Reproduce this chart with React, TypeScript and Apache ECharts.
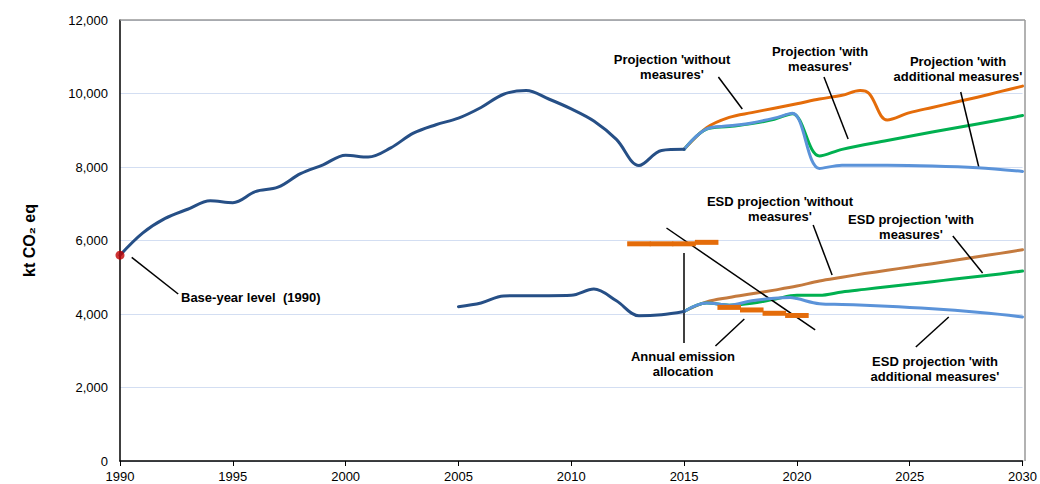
import React, { useEffect, useRef } from "react";
import * as echarts from "echarts";

// ---- Data ----
const historic: [number, number][] = [
  [1990, 5600], [1991, 6200], [1992, 6600], [1993, 6850], [1994, 7080], [1995, 7030],
  [1996, 7330], [1997, 7450], [1998, 7820], [1999, 8060], [2000, 8320], [2001, 8270],
  [2002, 8520], [2003, 8920], [2004, 9150], [2005, 9330], [2006, 9620], [2007, 9980],
  [2008, 10080], [2009, 9850], [2010, 9580], [2011, 9250], [2012, 8750], [2013, 8040],
  [2014, 8450], [2015, 8480],
];

const projWithout: [number, number][] = [
  [2015, 8480], [2016, 9070], [2017, 9350], [2018, 9480], [2019, 9600], [2020, 9720],
  [2021, 9850], [2022, 9950], [2022.8, 10080], [2023.2, 10000], [2024, 9280], [2025, 9480],
  [2026, 9620], [2027, 9760], [2028, 9900], [2029, 10050], [2030, 10200],
];

const projWith: [number, number][] = [
  [2015, 8480], [2016, 9030], [2017, 9100], [2018, 9180], [2019, 9300], [2019.8, 9450],
  [2021, 8300], [2022, 8480], [2024, 8720], [2026, 8950], [2028, 9170], [2030, 9400],
];

const projAdditional: [number, number][] = [
  [2015, 8480], [2016, 9040], [2017, 9120], [2018, 9200], [2019, 9330], [2019.8, 9460],
  [2021, 7960], [2022, 8050], [2024, 8050], [2026, 8030], [2028, 7980], [2030, 7880],
];

const esdHistoric: [number, number][] = [
  [2005, 4200], [2006, 4300], [2007, 4490], [2008, 4500], [2009, 4500], [2010, 4510],
  [2011, 4680], [2012, 4360], [2013, 3950], [2014, 3980], [2015, 4070],
];

const esdWithout: [number, number][] = [
  [2015, 4070], [2016, 4330], [2017, 4450], [2018, 4550], [2019, 4650], [2020, 4760],
  [2021, 4900], [2022, 5000], [2023, 5100], [2024, 5190], [2025, 5280], [2026, 5370],
  [2027, 5460], [2028, 5560], [2029, 5650], [2030, 5750],
];

const esdWith: [number, number][] = [
  [2015, 4070], [2016, 4300], [2017, 4240], [2018, 4290], [2019, 4400], [2020, 4510],
  [2021, 4510], [2022, 4600], [2023, 4670], [2024, 4740], [2025, 4810], [2026, 4880],
  [2027, 4950], [2028, 5020], [2029, 5090], [2030, 5170],
];

const esdAdditional: [number, number][] = [
  [2015, 4070], [2016, 4300], [2017, 4240], [2018, 4360], [2019, 4430], [2019.7, 4450],
  [2020, 4420], [2021, 4280], [2022, 4260], [2023, 4240], [2024, 4210], [2025, 4180],
  [2026, 4140], [2027, 4100], [2028, 4050], [2029, 3990], [2030, 3920],
];

const allocationYears = [2013, 2014, 2015, 2016, 2017, 2018, 2019, 2020];
const allocationValues = [5910, 5910, 5910, 5950, 4180, 4110, 4020, 3960];

const baseYear: [number, number][] = [[1990, 5600]];

// annotation leader lines (data coordinates)
const leaders: [number, number, number, number][] = [
  [1990.52, 5543, 1992.58, 4544],
  [2016.52, 10449, 2017.58, 9578],
  [2021.2, 10449, 2022.27, 8762],
  [2027.26, 10041, 2028.06, 8000],
  [2020.72, 6422, 2021.56, 5061],
  [2026.91, 6122, 2028.23, 5116],
  [2026.73, 3918, 2025.27, 3102],
  [2017.67, 3864, 2016.39, 3129],
  [2015.0, 5660, 2015.0, 3211],
  [2014.22, 6340, 2020.81, 3565],
];

const FONT = "'Liberation Sans', Arial, sans-serif";

export default function App() {
  const ref = useRef<HTMLDivElement>(null);
  useEffect(() => {
    document.body.style.margin = "0";
    if (!ref.current) return;
    const chart = echarts.init(ref.current, undefined, { renderer: "svg" });

    const lineSeries = (name: string, data: [number, number][], color: string, width: number, z: number) => ({
      name,
      type: "line",
      data,
      smooth: 0.35,
      showSymbol: false,
      symbol: "none",
      z,
      lineStyle: { color, width, cap: "round", join: "round" },
    });

    const allocData = allocationYears.map((y, i) => [y, allocationValues[i]]);

    const labelStyle = (text: string, x: number, y: number, align: string = "center") => ({
      type: "text",
      x,
      y,
      style: {
        text,
        fill: "#000",
        font: `bold 13px ${FONT}`,
        textAlign: align,
        textVerticalAlign: "top",
        lineHeight: 15,
      },
      z: 100,
    });

    chart.setOption({
      animation: false,
      grid: { left: 120, right: 15, top: 20, bottom: 23, show: false },
      xAxis: {
        type: "value",
        min: 1990,
        max: 2030,
        interval: 5,
        axisLine: { show: true, lineStyle: { color: "#000", width: 1.5 } },
        axisTick: { show: true, length: 5, lineStyle: { color: "#000" } },
        axisLabel: { color: "#000", fontFamily: FONT, fontSize: 13, margin: 9, formatter: (v: number) => String(v) },
        splitLine: { show: false },
      },
      yAxis: {
        type: "value",
        min: 0,
        max: 12000,
        interval: 2000,
        name: "kt CO\u2082 eq",
        nameLocation: "middle",
        nameGap: 83,
        nameTextStyle: { color: "#000", fontFamily: FONT, fontSize: 16, fontWeight: "bold" },
        axisLine: { show: true, lineStyle: { color: "#000", width: 1.5 } },
        axisTick: { show: false },
        axisLabel: {
          color: "#000",
          fontFamily: FONT,
          fontSize: 13,
          margin: 12,
          formatter: (v: number) => v.toLocaleString("en-US"),
        },
        splitLine: { show: true, lineStyle: { color: "#D3DEF2", width: 1 } },
      },
      graphic: [
        { type: "line", shape: { x1: 120, y1: 20, x2: 1025, y2: 20 }, style: { stroke: "#999", lineWidth: 1.5 }, z: 1 },
        { type: "line", shape: { x1: 1025, y1: 20, x2: 1025, y2: 461 }, style: { stroke: "#999", lineWidth: 1.5 }, z: 1 },
        labelStyle("Base-year level  (1990)", 181, 290, "left"),
        labelStyle("Projection 'without\nmeasures'", 672, 52),
        labelStyle("Projection 'with\nmeasures'", 820, 44),
        labelStyle("Projection 'with\nadditional measures'", 958, 54),
        labelStyle("ESD projection 'without\nmeasures'", 780, 194),
        labelStyle("ESD projection 'with\nmeasures'", 911, 212),
        labelStyle("ESD projection 'with\nadditional measures'", 935, 354),
        labelStyle("Annual emission\nallocation", 683, 349),
      ],
      series: [
        lineSeries("Projection 'without measures'", projWithout, "#E46C0A", 3, 3),
        lineSeries("Projection 'with measures'", projWith, "#00B050", 3, 4),
        lineSeries("Projection 'with additional measures'", projAdditional, "#5B93D9", 3, 5),
        lineSeries("Historic", historic, "#264F86", 3, 6),
        lineSeries("ESD projection 'without measures'", esdWithout, "#C47A3E", 3, 3),
        lineSeries("ESD projection 'with measures'", esdWith, "#00B050", 3, 4),
        lineSeries("ESD projection 'with additional measures'", esdAdditional, "#5B93D9", 3, 5),
        lineSeries("ESD historic", esdHistoric, "#264F86", 3, 6),
        {
          name: "Annual emission allocation",
          type: "custom",
          z: 7,
          data: allocData,
          renderItem: (params: any, api: any) => {
            const x = api.value(0);
            const y = api.value(1);
            const p1 = api.coord([x - 0.5, y]);
            const p2 = api.coord([x + 0.5, y]);
            return {
              type: "line",
              shape: { x1: p1[0] - 0.5, y1: p1[1], x2: p2[0] + 0.5, y2: p2[1] },
              style: { stroke: "#E46C0A", lineWidth: 5 },
            };
          },
          markLine: {
            silent: true,
            symbol: ["none", "none"],
            label: { show: false },
            lineStyle: { color: "#000", width: 1.5, type: "solid" },
            emphasis: { disabled: true },
            data: leaders.map(([x1, y1, x2, y2]) => [{ coord: [x1, y1] }, { coord: [x2, y2] }]),
          },
        },
        {
          name: "Base year",
          type: "scatter",
          data: baseYear,
          symbolSize: 9,
          z: 8,
          itemStyle: { color: "#C00000" },
        },
      ],
    });
    return () => chart.dispose();
  }, []);
  return <div ref={ref} style={{ width: 1040, height: 484 }} />;
}
